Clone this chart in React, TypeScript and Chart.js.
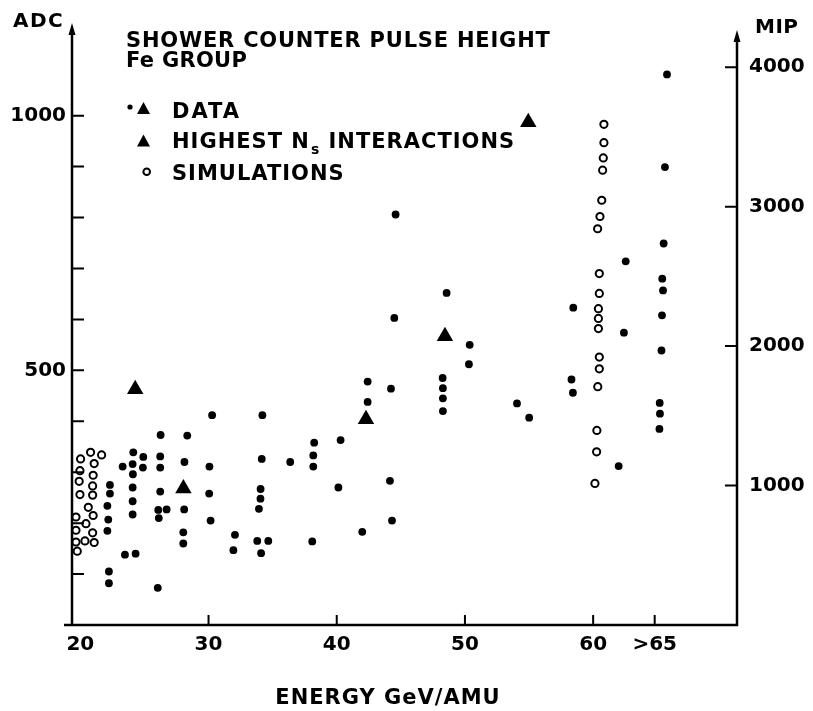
import React, { useEffect, useRef } from 'react';
import { Chart, registerables } from 'chart.js';

Chart.register(...registerables);

const FONT = '"DejaVu Sans", "Liberation Sans", sans-serif';

// ---- axis ticks ----
const X_TICKS = [20, 30, 40, 50, 60, 64.8];
const X_TICK_LABELS = ['20', '30', '40', '50', '60', '>65'];
const X_MARKED_TICKS = [30, 40, 50, 60, 64.8];
const ADC_LABELED = [500, 1000];
const ADC_MINOR = [100, 200, 300, 400, 500, 600, 700, 800, 900, 1000];
const MIP_TICKS = [1000, 2000, 3000, 4000];

// ---- DATA (filled dots) ----
const dataE = [
  22.31, 22.31, 22.11, 22.18, 22.11, 22.23, 22.23,
  23.3, 23.48, 24.13, 24.08, 24.1, 24.08, 24.08, 24.08, 24.31, 24.91, 24.88,
  26.26, 26.23, 26.23, 26.23, 26.08, 26.73, 26.12, 26.04,
  28.34, 28.12, 28.1, 28.03, 28.03,
  30.28, 30.07, 30.05, 30.16,
  32.06, 31.94,
  34.2, 34.15, 34.06, 34.05, 33.93, 33.8, 34.66, 34.1,
  36.37,
  38.24, 38.17, 38.17, 38.09,
  40.3, 40.13,
  42.41, 42.41, 41.99,
  44.59, 44.49, 44.23, 44.15, 44.31,
  48.57, 48.26, 48.28, 48.28, 48.28,
  50.37, 50.31,
  54.06, 55.01,
  58.45, 58.31, 58.42,
  62.54, 62.4, 61.99,
  65.76, 65.6, 65.5, 65.39, 65.45, 65.37, 65.33, 65.19, 65.21, 65.17,
];
const dataADC = [
  275, 258, 234, 207, 185, 105, 82,
  311, 138, 339, 316, 296, 270, 243, 217, 140, 330, 309,
  373, 331, 309, 262, 226, 227, 210, 73,
  372, 320, 227, 182, 160,
  412, 311, 258, 205,
  177, 147,
  412, 326, 267, 248, 228, 165, 165, 141,
  320,
  358, 333, 311, 164,
  363, 270,
  478, 438, 183,
  806, 603, 464, 283, 205,
  652, 485, 465, 445, 420,
  550, 512,
  435, 407,
  623, 482, 456,
  714, 574, 312,
  1081, 899, 749, 680, 657, 608, 539, 436, 415, 385,
];

// ---- HIGHEST Ns INTERACTIONS (triangles) ----
const highestE = [24.28, 28.04, 42.28, 48.44, 54.94];
const highestADC = [463, 268, 404, 567, 987];

// ---- SIMULATIONS (open circles) ----
const simE = [
  20.8, 21.66, 20.02, 21.08, 19.97, 21.0, 19.91, 20.96, 19.97, 20.96,
  20.62, 19.66, 21.0, 20.44, 19.66, 20.96, 19.66, 20.36, 21.08, 19.76,
  60.84, 60.84, 60.79, 60.74, 60.67, 60.53, 60.35, 60.48, 60.48, 60.41,
  60.41, 60.41, 60.48, 60.48, 60.36, 60.29, 60.27, 60.14,
];
const simADC = [
  339, 334, 326, 317, 303, 294, 282, 273, 256, 255,
  231, 212, 215, 199, 186, 181, 163, 165, 162, 145,
  983, 947, 917, 893, 834, 802, 778, 690, 651, 621,
  602, 582, 526, 503, 468, 382, 340, 278,
];

const toPts = (xs: number[], ys: number[]) => xs.map((x, i) => ({ x, y: ys[i] }));

const framePlugin = {
  id: 'frame',
  afterDraw(chart: any) {
    const { ctx, chartArea: a } = chart;
    const xs = chart.scales.x;
    const ys = chart.scales.y;
    const y2 = chart.scales.y2;
    ctx.save();
    ctx.strokeStyle = '#000';
    ctx.fillStyle = '#000';
    ctx.lineWidth = 2.5;
    ctx.beginPath();
    ctx.moveTo(a.left - 8, a.bottom);
    ctx.lineTo(a.right + 1, a.bottom);
    ctx.moveTo(a.left, a.bottom + 1);
    ctx.lineTo(a.left, a.top + 6);
    ctx.moveTo(a.right, a.bottom + 1);
    ctx.lineTo(a.right, a.top + 14);
    ctx.stroke();

    const arrow = (x: number, y: number) => {
      ctx.beginPath();
      ctx.moveTo(x, y);
      ctx.lineTo(x - 3.5, y + 12);
      ctx.lineTo(x + 3.5, y + 12);
      ctx.closePath();
      ctx.fill();
    };
    arrow(a.left, a.top - 1);
    arrow(a.right, a.top + 6);

    ctx.lineWidth = 2;
    ctx.beginPath();
    ADC_MINOR.forEach((v) => {
      const p = ys.getPixelForValue(v);
      ctx.moveTo(a.left, p);
      ctx.lineTo(a.left + 12, p);
    });
    MIP_TICKS.forEach((v) => {
      const p = y2.getPixelForValue(v);
      ctx.moveTo(a.right, p);
      ctx.lineTo(a.right - 12, p);
    });
    X_MARKED_TICKS.forEach((v) => {
      const p = xs.getPixelForValue(v);
      ctx.moveTo(p, a.bottom);
      ctx.lineTo(p, a.bottom - 10);
    });
    ctx.stroke();

    // texts
    ctx.textBaseline = 'alphabetic';
    ctx.textAlign = 'left';
    ctx.font = `bold 21px ${FONT}`;
    (ctx as any).letterSpacing = '0.8px';
    ctx.fillText('SHOWER COUNTER PULSE HEIGHT', 126, 47);
    (ctx as any).letterSpacing = '0.3px';
    ctx.fillText('Fe GROUP', 126, 67);
    (ctx as any).letterSpacing = '2px';
    ctx.fillText('DATA', 172, 118);
    (ctx as any).letterSpacing = '1px';
    ctx.fillText('HIGHEST N', 172, 148);
    const w1 = ctx.measureText('HIGHEST N').width;
    ctx.font = `bold 14px ${FONT}`;
    ctx.fillText('s', 172 + w1 + 1, 154);
    const w2 = ctx.measureText('s').width;
    ctx.font = `bold 21px ${FONT}`;
    ctx.fillText(' INTERACTIONS', 172 + w1 + w2 + 1, 148);
    ctx.fillText('SIMULATIONS', 172, 180);

    ctx.textAlign = 'center';
    ctx.fillText('ENERGY GeV/AMU', 388, 704);

    ctx.textAlign = 'left';
    ctx.font = `bold 20px ${FONT}`;
    (ctx as any).letterSpacing = '1.5px';
    ctx.fillText('ADC', 13, 27);
    (ctx as any).letterSpacing = '0.5px';
    ctx.fillText('MIP', 755, 33);

    // legend marks
    ctx.beginPath();
    ctx.arc(130, 107, 2.6, 0, Math.PI * 2);
    ctx.fill();
    const tri = (cx: number, cy: number) => {
      ctx.beginPath();
      ctx.moveTo(cx, cy - 6);
      ctx.lineTo(cx - 6.5, cy + 6);
      ctx.lineTo(cx + 6.5, cy + 6);
      ctx.closePath();
      ctx.fill();
    };
    tri(143.5, 108);
    tri(143.5, 140.5);
    ctx.lineWidth = 2;
    ctx.beginPath();
    ctx.arc(146.7, 171.7, 3.3, 0, Math.PI * 2);
    ctx.stroke();
    ctx.restore();
  },
};

export default function App() {
  const ref = useRef<HTMLCanvasElement>(null);
  useEffect(() => {
    document.body.style.margin = '0';
    const canvas = ref.current!;
    const tickFont = { family: FONT, size: 20, weight: 'bold' as const };
    const chart = new Chart(canvas, {
      type: 'scatter',
      data: {
        datasets: [
          {
            label: 'SIMULATIONS',
            data: toPts(simE, simADC),
            pointStyle: 'circle',
            pointRadius: 3.6,
            pointBorderWidth: 2,
            borderColor: '#000',
            backgroundColor: 'rgba(0,0,0,0)',
            yAxisID: 'y',
            clip: false,
          },
          {
            label: 'DATA',
            data: toPts(dataE, dataADC),
            pointStyle: 'circle',
            pointRadius: 3.9,
            pointBorderWidth: 0,
            borderColor: '#000',
            backgroundColor: '#000',
            yAxisID: 'y',
            clip: false,
          },
          {
            label: 'HIGHEST Ns INTERACTIONS',
            data: toPts(highestE, highestADC),
            pointStyle: 'triangle',
            pointRadius: 9.5,
            pointBorderWidth: 0,
            borderColor: '#000',
            backgroundColor: '#000',
            yAxisID: 'y',
            clip: false,
          },
        ],
      },
      options: {
        responsive: false,
        animation: false,
        events: [],
        layout: { padding: { top: 15, left: 0, right: 0, bottom: 0 } },
        plugins: {
          legend: { display: false },
          tooltip: { enabled: false },
          title: { display: false },
        },
        scales: {
          x: {
            type: 'linear',
            min: 19.35,
            max: 71.22,
            grid: { display: false, drawTicks: false },
            border: { display: false },
            afterBuildTicks: (s: any) => {
              s.ticks = X_TICKS.map((v) => ({ value: v }));
            },
            afterFit: (s: any) => {
              s.height = 86;
            },
            ticks: {
              autoSkip: false,
              maxRotation: 0,
              padding: 8,
              color: '#000',
              font: tickFont,
              callback: (_v: any, i: number) => X_TICK_LABELS[i],
            },
          },
          y: {
            type: 'linear',
            position: 'left',
            min: 0,
            max: 1180,
            grid: { display: false, drawTicks: false },
            border: { display: false },
            afterBuildTicks: (s: any) => {
              s.ticks = ADC_LABELED.map((v) => ({ value: v }));
            },
            afterFit: (s: any) => {
              s.width = 72;
            },
            ticks: {
              padding: 6,
              color: '#000',
              font: tickFont,
              callback: (v: any) => String(v),
            },
          },
          y2: {
            type: 'linear',
            position: 'right',
            min: 0,
            max: 4310,
            grid: { display: false, drawTicks: false },
            border: { display: false },
            afterBuildTicks: (s: any) => {
              s.ticks = MIP_TICKS.map((v) => ({ value: v }));
            },
            afterFit: (s: any) => {
              s.width = 76;
            },
            ticks: {
              padding: 12,
              color: '#000',
              font: tickFont,
              callback: (v: any) => String(v),
            },
          },
        },
      },
      plugins: [framePlugin],
    });
    return () => chart.destroy();
  }, []);
  return (
    <div style={{ width: 813, height: 711 }}>
      <canvas ref={ref} width={813} height={711} style={{ display: 'block' }} />
    </div>
  );
}
